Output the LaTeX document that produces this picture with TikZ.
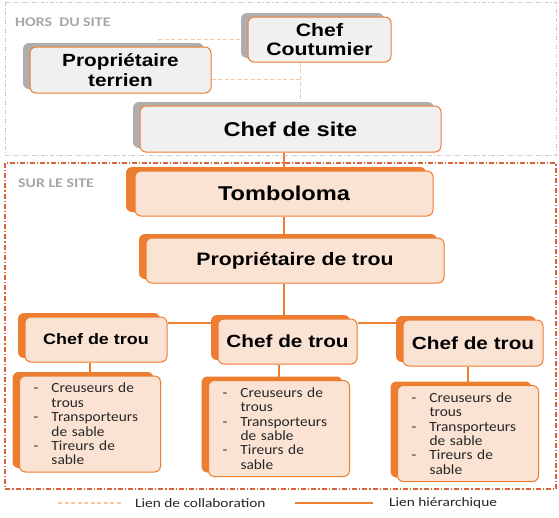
\documentclass[tikz,border=0pt]{standalone}
\usepackage{fontspec}
\usetikzlibrary{shadows,calc}
\newfontfamily\boxfont{Liberation Sans}[FakeStretch=1.18]
\newfontfamily\calfont{Carlito}[FakeStretch=1.2]
\newfontfamily\listfont{Carlito}[FakeStretch=1.1]
\definecolor{acc}{HTML}{ED7D31}
\definecolor{peach}{HTML}{FBE3D3}
\definecolor{gfill}{HTML}{F0F0F0}
\definecolor{gshadow}{HTML}{AEAEAE}
\definecolor{collabc}{HTML}{F7C6A3}
\definecolor{surc}{HTML}{D6633A}
\definecolor{horsc}{HTML}{C8C8C8}
\definecolor{labelc}{HTML}{A6A6A6}
\definecolor{legtext}{HTML}{262626}
\pgfdeclarelayer{background}
\pgfsetlayers{background,main}
\newcommand\dashitem[1]{\makebox[19pt][l]{\hspace{1pt}-}#1}
\newcommand\contline[1]{\hspace*{19pt}#1}
\tikzset{
  base/.style={rounded corners=6pt, draw=acc, line width=1pt, align=center, inner sep=0pt},
  graybox/.style={base, fill=gfill, general shadow={fill=gshadow, shadow xshift=-7pt, shadow yshift=4pt}},
  orbox/.style={base, fill=peach, general shadow={fill=acc, shadow xshift=-7pt, shadow yshift=4pt}},
  listbox/.style={orbox, minimum width=141pt, minimum height=96pt, text width=115pt, inner xsep=13pt, align=left,
    font={\listfont\fontsize{14}{14.4}\selectfont}, text=black!85},
  hier/.style={draw=acc, line width=1.1pt},
  collab/.style={draw=collabc, line width=1pt, dash pattern=on 4pt off 2.5pt},
  horsframe/.style={draw=horsc, line width=0.8pt, dash pattern=on 4pt off 2pt on 1pt off 2pt},
  surframe/.style={draw=surc, line width=1.1pt, dash pattern=on 5pt off 2pt on 1.2pt off 2pt},
  zonelabel/.style={anchor=west, text=labelc, inner sep=0pt, font={\calfont\bfseries\fontsize{13.2}{15}\selectfont}},
  legendtext/.style={anchor=west, text=legtext, inner sep=0pt, font={\calfont\fontsize{12.8}{15}\selectfont}},
}
\begin{document}
\begin{tikzpicture}[x=1pt,y=-1pt]
\useasboundingbox (0,0) rectangle (559,517);

% zone labels
\node[zonelabel] (hors) at (15,22) {HORS\ \ DU SITE};
\node[zonelabel] (sur) at (18,183) {SUR LE SITE};

% off-site nodes
\node[graybox, minimum width=143pt, minimum height=45pt, font={\boxfont\bfseries\fontsize{18}{19.5}\selectfont}]
  (cc) at (319.5,39.5) {Chef\\Coutumier};
\node[graybox, minimum width=181pt, minimum height=46pt, font={\boxfont\bfseries\fontsize{17.6}{19.5}\selectfont}]
  (pt) at (120.5,70) {Propriétaire\\terrien};
\node[graybox, minimum width=301pt, minimum height=46pt, font={\boxfont\bfseries\fontsize{20}{22}\selectfont}]
  (cs) at (290.5,129) {Chef de site};

% on-site nodes
\node[orbox, minimum width=298pt, minimum height=45pt, font={\boxfont\bfseries\fontsize{20}{22}\selectfont},
  general shadow={fill=acc, shadow xshift=-9pt, shadow yshift=4pt}]
  (tb) at (284,193.5) {Tomboloma};
\node[orbox, minimum width=298pt, minimum height=45pt, font={\boxfont\bfseries\fontsize{18}{20}\selectfont}]
  (pdt) at (295,260.5) {Propriétaire de trou};

\node[orbox, minimum width=142pt, minimum height=45pt, font={\boxfont\bfseries\fontsize{15.2}{17}\selectfont}]
  (ct1) at (96,339.5) {Chef de trou};
\node[orbox, minimum width=139pt, minimum height=45pt, font={\boxfont\bfseries\fontsize{17.6}{19}\selectfont}]
  (ct2) at (287.5,341.5) {Chef de trou};
\node[orbox, minimum width=140pt, minimum height=46pt, font={\boxfont\bfseries\fontsize{17.6}{19}\selectfont}]
  (ct3) at (473,343) {Chef de trou};

\node[listbox] (l1) at (90,424)
  {\dashitem{Creuseurs de}\\\contline{trous}\\\dashitem{Transporteurs}\\\contline{de sable}\\\dashitem{Tireurs de}\\\contline{sable}};
\node[listbox] (l2) at (279,428.5)
  {\dashitem{Creuseurs de}\\\contline{trous}\\\dashitem{Transporteurs}\\\contline{de sable}\\\dashitem{Tireurs de}\\\contline{sable}};
\node[listbox] (l3) at (468,433.5)
  {\dashitem{Creuseurs de}\\\contline{trous}\\\dashitem{Transporteurs}\\\contline{de sable}\\\dashitem{Tireurs de}\\\contline{sable}};

% legend
\coordinate (lc1) at (58,503);
\coordinate (lc2) at (122,503);
\coordinate (lh1) at (295,503);
\coordinate (lh2) at (373,503);
\node[legendtext] (lctext) at (135,503) {Lien de collaboration};
\node[legendtext] (lhtext) at (389,503) {Lien hiérarchique};

\coordinate (j) at (284,323);
\coordinate (k) at (300,79);

\begin{pgfonlayer}{background}
  \draw[horsframe] (5,2) rectangle (556,155);
  \draw[surframe] (5,163) rectangle (556,489);
  % collaboration links
  \draw[collab] ([xshift=38pt]pt.north) |- (cc.west);
  \draw[collab] ([yshift=-9pt]pt.east) -- (k);
  \draw[collab] (k |- cc.south) -- (k |- cs.north);
  % hierarchical links
  \draw[hier] (tb.north) -- (tb.north |- cs.south);
  \draw[hier] (tb.south) -- (tb.south |- pdt.north);
  \draw[hier] (j |- pdt.south) -- (j |- ct2.north);
  \draw[hier] (ct1.east |- j) -- (ct2.west |- j);
  \draw[hier] (ct2.east |- j) -- (ct3.west |- j);
  \draw[hier] (l1.north) -- (l1.north |- ct1.south);
  \draw[hier] (l2.north) -- (l2.north |- ct2.south);
  \draw[hier] (l3.north) -- (l3.north |- ct3.south);
  % legend lines
  \draw[collab, line width=1.3pt] (lc1) -- (lc2);
  \draw[hier] (lh1) -- (lh2);
\end{pgfonlayer}
\end{tikzpicture}
\end{document}
